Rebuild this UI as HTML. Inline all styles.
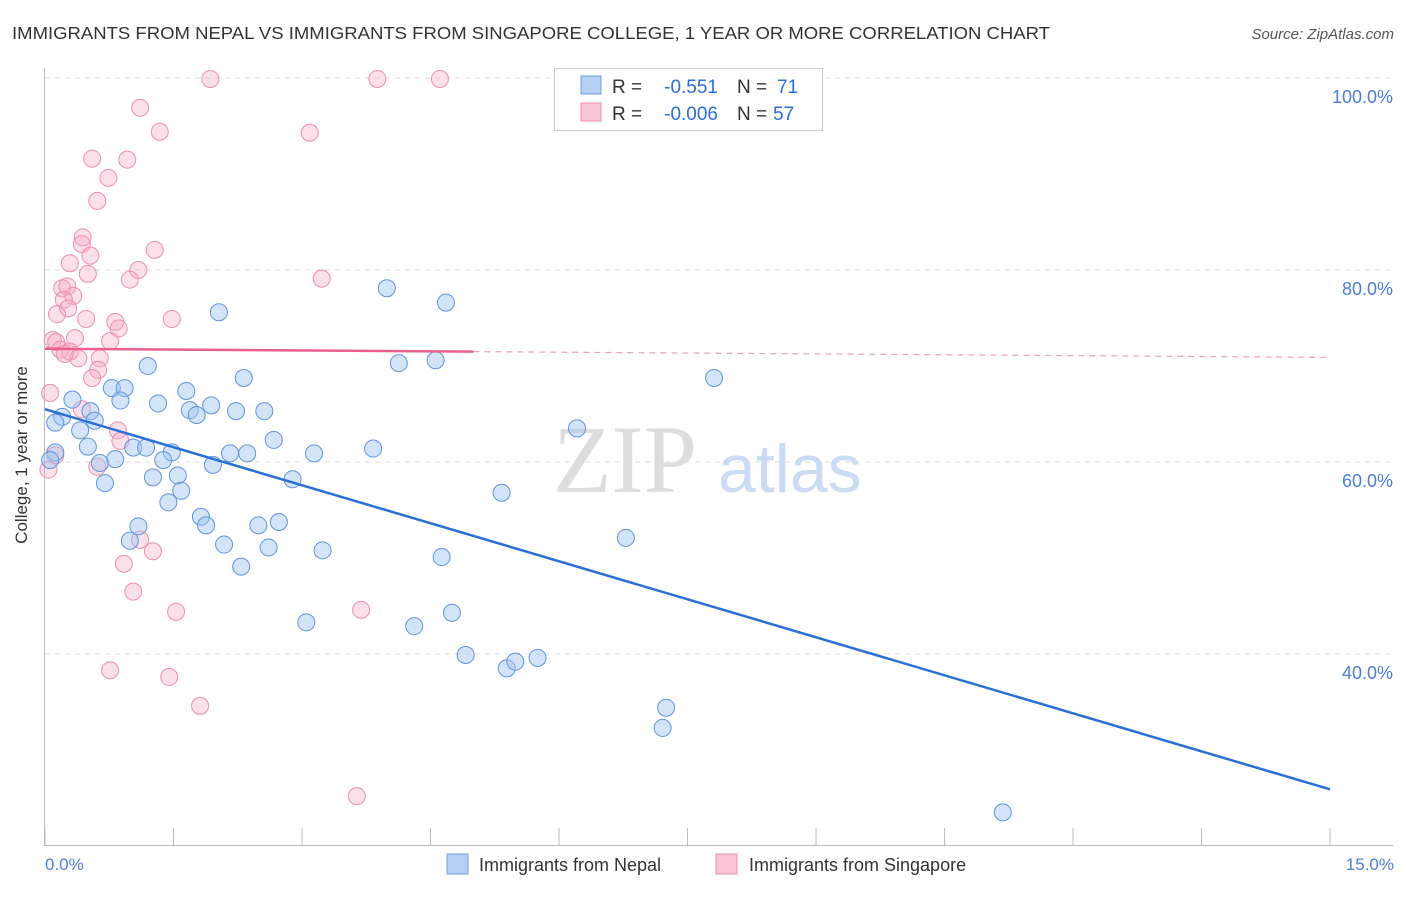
<!DOCTYPE html>
<html><head><meta charset="utf-8"><style>
body{margin:0;background:#fff;font-family:"Liberation Sans",sans-serif}
</style></head><body>
<svg width="1406" height="892" viewBox="0 0 1406 892" xmlns="http://www.w3.org/2000/svg">
<text x="12" y="39" font-size="17.5" fill="#333" textLength="1038" lengthAdjust="spacingAndGlyphs">IMMIGRANTS FROM NEPAL VS IMMIGRANTS FROM SINGAPORE COLLEGE, 1 YEAR OR MORE CORRELATION CHART</text>
<text x="1394" y="39" font-size="15" fill="#555" font-style="italic" text-anchor="end">Source: ZipAtlas.com</text>
<g id="grid"></g>
<text x="553" y="492" font-size="96" fill="#ddd" font-family="Liberation Serif,serif">ZIP</text>
<text x="718" y="492" font-size="68" fill="#c9dcf3">atlas</text>
<line x1="44.5" y1="68" x2="44.5" y2="845" stroke="#bbb"/>
<line x1="44" y1="845.5" x2="1393" y2="845.5" stroke="#bbb"/>
<g id="ticks"></g>
<g id="pts"></g>
<g id="lines"></g>
<text x="27" y="455" font-size="17" fill="#333" text-anchor="middle" transform="rotate(-90 27 455)">College, 1 year or more</text>
<text x="45" y="870" font-size="17" fill="#4a7fd6">0.0%</text>
<text x="1394" y="870" font-size="17" fill="#4a7fd6" text-anchor="end">15.0%</text>
<g>
<rect x="554.5" y="68.5" width="268" height="62" fill="#fff" stroke="#ccc"/>
<rect x="581" y="76" width="20" height="18" fill="#b5d0f3" stroke="#6a9fe0"/>
<rect x="581" y="103" width="20" height="18" fill="#f9c7d7" stroke="#eb8fb0"/>
<text x="612" y="93" font-size="19" fill="#333">R =</text>
<text x="718" y="93" font-size="19" fill="#2a6fd6" text-anchor="end">-0.551</text>
<text x="737" y="93" font-size="19" fill="#333">N =</text>
<text x="777" y="93" font-size="19" fill="#2a6fd6">71</text>
<text x="612" y="120" font-size="19" fill="#333">R =</text>
<text x="718" y="120" font-size="19" fill="#2a6fd6" text-anchor="end">-0.006</text>
<text x="737" y="120" font-size="19" fill="#333">N =</text>
<text x="773" y="120" font-size="19" fill="#2a6fd6">57</text>
</g>
<g>
<rect x="447" y="854" width="21" height="20" fill="#b5d0f3" stroke="#6a9fe0"/>
<text x="479" y="871" font-size="18" fill="#333">Immigrants from Nepal</text>
<rect x="716" y="854" width="21" height="20" fill="#f9c7d7" stroke="#eb8fb0"/>
<text x="749" y="871" font-size="18" fill="#333">Immigrants from Singapore</text>
</g>
</svg>
<script>
const yTicks=[100,80,60,40];
const yTickLabels=["100.0%","80.0%","60.0%","40.0%"];
const xTicks=[0,1.5,3,4.5,6,7.5,9,10.5,12,13.5,15];
const nepalX=[2.03,3.99,4.68,1.20,4.13,4.56,7.81,2.32,0.78,0.93,1.65,0.32,0.88,1.32,1.94,1.69,1.77,2.23,2.56,0.53,0.20,0.58,0.41,0.12,2.67,6.21,1.03,1.18,1.48,2.16,2.36,3.14,3.83,0.50,0.82,1.38,0.64,1.96,1.55,1.26,2.89,0.70,1.59,5.33,1.44,1.82,1.88,1.09,2.49,2.73,0.99,6.78,2.09,2.61,3.24,4.63,2.29,3.05,4.31,4.75,4.91,5.39,5.49,5.75,7.25,7.21,11.18,0.12,0.06];
const nepalY=[75.6,78.1,76.6,70.0,70.3,70.6,68.75,68.75,67.7,67.7,67.4,66.5,66.4,66.1,65.9,65.4,64.9,65.3,65.3,65.3,64.7,64.3,63.3,64.1,62.3,63.5,61.5,61.5,61.0,60.9,60.9,60.9,61.4,61.6,60.3,60.2,59.9,59.7,58.6,58.4,58.2,57.8,57.0,56.8,55.8,54.3,53.4,53.3,53.4,53.75,51.8,52.1,51.4,51.1,50.8,50.1,49.1,43.3,42.9,44.3,39.9,38.5,39.2,39.6,34.4,32.3,23.5,61.0,60.2];
const singX=[1.93,3.88,4.61,1.11,1.34,3.09,0.55,0.96,0.74,0.61,0.44,0.43,1.28,0.29,0.53,0.50,1.09,0.99,3.23,0.20,0.26,0.33,0.22,0.27,0.14,0.48,0.82,1.48,0.86,0.09,0.13,0.35,0.76,0.18,0.29,0.39,0.64,0.23,0.62,0.55,0.06,0.43,0.85,0.88,0.12,0.61,0.04,1.11,1.26,0.92,1.03,1.53,3.69,0.76,1.45,1.81,3.64];
const singY=[99.9,99.9,99.9,96.9,94.4,94.3,91.6,91.5,89.6,87.2,83.4,82.7,82.1,80.7,81.5,79.6,80.0,79.0,79.1,78.1,78.3,77.3,76.9,76.0,75.4,74.9,74.6,74.9,73.9,72.7,72.5,72.9,72.6,71.7,71.5,70.8,70.8,71.25,69.6,68.75,67.2,65.5,63.3,62.2,60.7,59.5,59.2,51.9,50.7,49.4,46.5,44.4,44.6,38.3,37.6,34.6,25.2];
const nepalTrend=[65.5,25.9];
const singTrend=[71.8,70.9];
const NS="http://www.w3.org/2000/svg";
const X=v=>45+v*85.67, Y=v=>78+(100-v)*9.6;
function mk(t,a,p){const e=document.createElementNS(NS,t);for(const k in a)e.setAttribute(k,a[k]);p.appendChild(e);return e;}
const grid=document.getElementById('grid');
yTicks.forEach((t,i)=>{
 const l=mk('line',{x1:45,x2:1393,y1:Y(t),y2:Y(t),stroke:'#ddd','stroke-dasharray':'5,5'},grid);
 
 
 const tx=mk('text',{x:1393,y:Y(t)+25,'font-size':18,fill:'#4a7fd6','text-anchor':'end'},grid);
 tx.textContent=yTickLabels[i];
 
 
});
const tk=document.getElementById('ticks');
xTicks.forEach(t=>{
 const l=mk('line',{x1:X(t),x2:X(t),y1:828,y2:845,stroke:'#bbb'},tk);
 
 
});
const pts=document.getElementById('pts');
singX.forEach((x,i)=>{
 const c=mk('circle',{cx:X(x),cy:Y(singY[i]),r:8.5,fill:'rgba(245,165,192,0.35)',stroke:'#eb8fb0','stroke-width':1},pts);
 
 
});
nepalX.forEach((x,i)=>{
 const c=mk('circle',{cx:X(x),cy:Y(nepalY[i]),r:8.5,fill:'rgba(160,196,240,0.45)',stroke:'#5f95dc','stroke-width':1},pts);
 
 
});
const ln=document.getElementById('lines');
let a=mk('line',{x1:X(0),y1:Y(nepalTrend[0]),x2:X(15),y2:Y(nepalTrend[1]),stroke:'#2a6fd6','stroke-width':2.5},ln);


const sm=singTrend[0]+(singTrend[1]-singTrend[0])*5/15;
let b=mk('line',{x1:X(0),y1:Y(singTrend[0]),x2:X(5),y2:Y(sm),stroke:'#e8608e','stroke-width':2.5},ln);


let c=mk('line',{x1:X(5),y1:Y(sm),x2:X(15),y2:Y(singTrend[1]),stroke:'#e8a0b8','stroke-width':1.2,'stroke-dasharray':'6,5'},ln);


</script>
</body></html>
